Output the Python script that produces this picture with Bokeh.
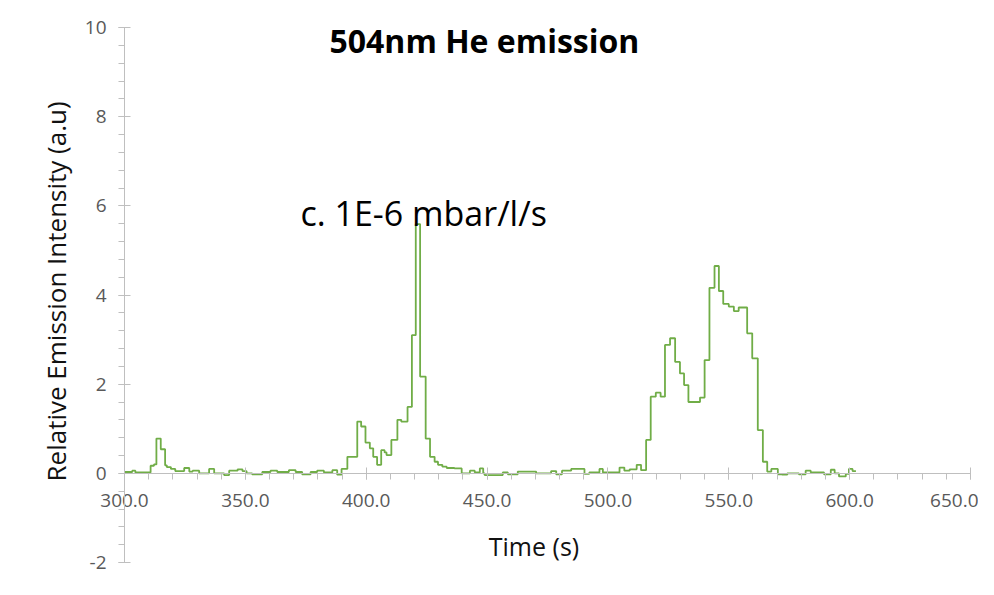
import math
from bokeh.plotting import figure
from bokeh.models import Range1d, LinearAxis, SingleIntervalTicker, NumeralTickFormatter, Label, ColumnDataSource
from bokeh.embed import file_html
from bokeh.resources import INLINE

# Step start times (s) and relative emission intensity values (a.u.)
time_s = [300.0, 303.2, 304.5, 310.8, 312.2, 313.2, 315.0, 316.8, 317.5, 319.2,
          321.0, 324.7, 326.8, 328.2, 330.9, 335.0, 337.1, 341.2, 343.3, 346.8,
          348.8, 350.5, 352.8, 357.0, 360.4, 363.2, 368.0, 370.8, 373.5, 377.0,
          379.7, 382.5, 386.0, 388.0, 389.8, 392.2, 396.3, 397.9, 399.7, 401.5,
          402.9, 404.5, 406.2, 407.6, 408.4, 410.4, 412.9, 414.5, 417.1, 418.9,
          420.5, 422.3, 424.6, 426.4, 428.3, 429.7, 431.5, 433.3, 436.5, 439.5,
          442.9, 444.9, 447.0, 448.4, 449.0, 456.5, 458.6, 462.7, 470.3, 476.5,
          478.6, 481.0, 484.8, 490.3, 492.3, 496.5, 497.9, 504.8, 506.8, 509.0,
          511.9, 513.7, 515.8, 517.7, 519.8, 521.8, 523.6, 525.7, 527.8, 529.8,
          531.5, 533.3, 538.1, 540.0, 542.0, 544.1, 545.9, 547.7, 550.0, 552.1,
          554.1, 557.6, 559.7, 562.0, 564.1, 565.9, 567.6, 570.3, 572.0, 574.2,
          579.0, 581.8, 583.9, 589.4, 592.2, 593.8, 595.6, 598.4, 599.7, 601.2]
intensity = [0.03, 0.06, 0.02, 0.17, 0.20, 0.78, 0.54, 0.18, 0.14, 0.10,
             0.05, 0.12, 0.04, 0.06, 0.00, 0.10, 0.00, -0.04, 0.06, 0.09,
             0.05, 0.00, -0.02, 0.03, 0.06, 0.03, 0.07, 0.03, -0.02, 0.03,
             0.06, 0.02, 0.07, -0.03, 0.10, 0.37, 1.16, 1.05, 0.69, 0.56,
             0.37, 0.19, 0.52, 0.47, 0.41, 0.75, 1.20, 1.16, 1.49, 3.10,
             5.59, 2.17, 0.78, 0.37, 0.26, 0.19, 0.15, 0.12, 0.11, 0.00,
             0.06, 0.02, 0.11, 0.00, -0.04, 0.02, -0.02, 0.04, 0.00, 0.05,
             -0.02, 0.06, 0.10, -0.01, 0.02, 0.10, 0.02, 0.13, 0.06, 0.09,
             0.19, 0.07, 0.75, 1.72, 1.81, 1.72, 2.88, 3.03, 2.50, 2.24,
             1.98, 1.60, 1.70, 2.54, 4.16, 4.65, 4.09, 3.80, 3.74, 3.64,
             3.72, 3.14, 2.58, 0.97, 0.26, 0.04, 0.10, -0.02, -0.03, 0.00,
             -0.02, 0.06, 0.02, -0.02, 0.08, 0.00, -0.07, -0.01, 0.10, 0.05]
end_time = 602.6

x_axis_bounds = (300, 650)
y_axis_bounds = (-2, 10)

title_text = "504nm He emission"
note_text = "c. 1E-6 mbar/l/s"
x_title = "Time (s)"
y_title = "Relative Emission Intensity (a.u)"

GREEN = "#70AD47"
AXIS_GRAY = "#BFBFBF"
LABEL_GRAY = "#595959"
FONT = "Open Sans"

W, H = 978, 579
# frame covers the whole figure; axes cross inside it (Excel style)
kx = 846 / 350.0
ky = 535 / 12.0
x_start = 300 - 124 / kx
x_end = 300 + (W - 124) / kx
y_end = 10 + 27 / ky
y_start = 10 - (H - 27) / ky

p = figure(width=W, height=H, output_backend="svg", toolbar_location=None,
           x_range=Range1d(x_start, x_end), y_range=Range1d(y_start, y_end),
           x_axis_location=None, y_axis_location=None, min_border=0)
p.grid.visible = False
p.outline_line_color = None
p.background_fill_color = "white"
p.border_fill_color = "white"

def style_axis(ax):
    ax.axis_line_color = AXIS_GRAY
    ax.major_tick_line_color = AXIS_GRAY
    ax.minor_tick_line_color = AXIS_GRAY
    ax.major_tick_in = 6
    ax.major_tick_out = 6
    ax.minor_tick_in = 0
    ax.minor_tick_out = 6
    ax.major_label_text_color = LABEL_GRAY
    ax.major_label_text_font = FONT
    ax.major_label_text_font_size = "19px"
    ax.major_label_standoff = 12

ya = LinearAxis(fixed_location=300, bounds=y_axis_bounds,
                ticker=SingleIntervalTicker(interval=2, num_minor_ticks=5),
                formatter=NumeralTickFormatter(format="0"))
style_axis(ya)
p.add_layout(ya, "left")

xa = LinearAxis(fixed_location=0, bounds=x_axis_bounds,
                ticker=SingleIntervalTicker(interval=50, num_minor_ticks=5),
                formatter=NumeralTickFormatter(format="0.0"))
style_axis(xa)
xa.major_label_standoff = 15
p.add_layout(xa, "below")

src = ColumnDataSource(data=dict(t=time_s + [end_time], v=intensity + [intensity[-1]]))
p.step(x="t", y="v", source=src, mode="after", line_color=GREEN, line_width=1.8)

p.add_layout(Label(x=448.9, y=9.71, text=title_text, text_align="center", text_baseline="middle",
                   text_font=FONT, text_font_size="32px", text_font_style="bold", text_color="#000000"))
p.add_layout(Label(x=372.8, y=5.83, text=note_text, text_align="left", text_baseline="middle",
                   text_font=FONT, text_font_size="34px", text_color="#000000"))
p.add_layout(Label(x=469.4, y=-1.64, text=x_title, text_align="center", text_baseline="middle",
                   text_font=FONT, text_font_size="25px", text_color="#111111"))
p.add_layout(Label(x=271.5, y=4.08, text=y_title, text_align="center", text_baseline="middle",
                   angle=math.pi / 2, text_font=FONT, text_font_size="26px", text_color="#111111"))

open("out.html", "w").write(file_html(p, INLINE))
